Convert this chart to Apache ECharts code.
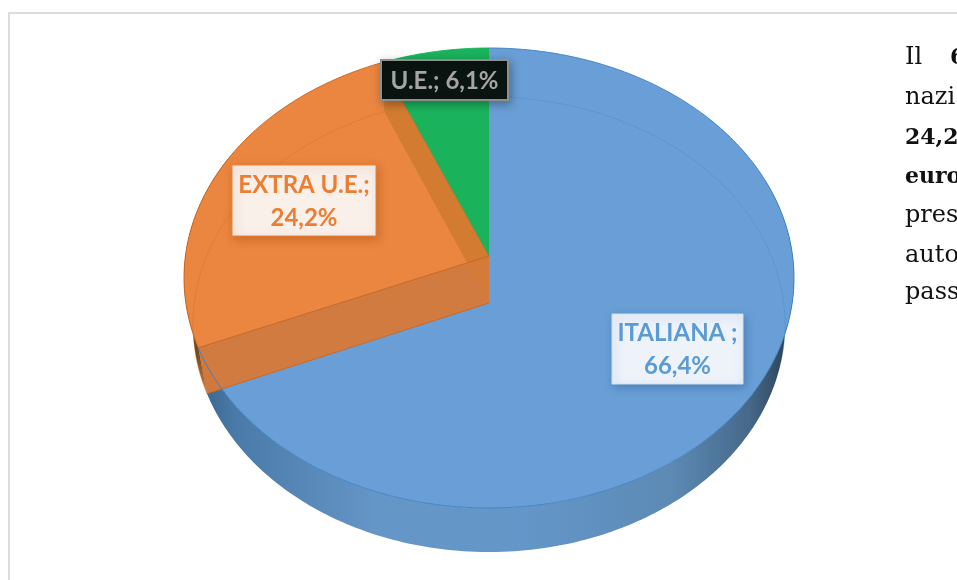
<!DOCTYPE html>
<html>
<head>
<meta charset="utf-8">
<style>
	html, body { margin: 0; padding: 0; background: #fff; }
	#chart { width: 957px; height: 580px; }
</style>
<script src="https://cdn.jsdelivr.net/npm/echarts@6/dist/echarts.min.js"></script>
</head>
<body>
<div id="chart"></div>
<script>
var categories = ['ITALIANA ;', 'EXTRA U.E.;', 'U.E.;'];
var values = [66.4, 24.2, 6.1];
var sideLines = [
	[['Il', false], ['6', true]],
	[['nazi', false]],
	[['24,2', true]],
	[['euro', true]],
	[['pres', false]],
	[['auto', false]],
	[['pass', false]]
];

// perspective rings of the disc: top face and base
var cx = 489;
var topRing = {cy: 256, a: 303.6, b: 227.9, k: 0.0956};
var baseRing = {cy: 303, a: 294.7, b: 225.5, k: 0.0945};

var faceColors = ['#699fd6', '#ea8640', '#1ab35c'];
var rimColors = ['#3d80c2', '#c9631c', '#1ab35c'];
var labelStyles = [
	{x: 612, y: 314, w: 131, h: 70, fill: '#eef3fa', stroke: '#cfe0f2', text: '#5b9bd5', shadow: 'rgba(50,100,160,0.55)', oneLine: false},
	{x: 232, y: 165, w: 144, h: 71, fill: '#f9f0ea', stroke: '#f0822f', text: '#ed7d31', shadow: 'rgba(170,80,20,0.5)', oneLine: false},
	{x: 381, y: 60, w: 127, h: 40, fill: '#0a1410', stroke: '#8d908f', text: '#a5a5a5', shadow: 'rgba(0,0,0,0.3)', oneLine: true}
];

function rimPoint(ring, deg) {
	var t = deg * Math.PI / 180;
	var u = Math.sin(t), v = -Math.cos(t);
	var d = 1 - ring.k * v;
	return [cx + ring.a * u / d, ring.cy + ring.b * v / d];
}

function rimArc(ring, from, to) {
	var pts = [];
	var n = Math.max(2, Math.ceil(Math.abs(to - from)));
	for (var i = 0; i <= n; i++) {
		pts.push(rimPoint(ring, from + (to - from) * i / n));
	}
	return pts;
}

var total = values.reduce(function (a, b) { return a + b; }, 0);

function startAngle(idx) {
	var s = 0;
	for (var i = 0; i < idx; i++) s += values[i];
	return s / total * 360;
}

function poly(points, style) {
	return {type: 'polygon', shape: {points: points}, style: style};
}

function line(points, stroke, width, opacity) {
	return {type: 'polyline', shape: {points: points}, style: {fill: 'none', stroke: stroke, lineWidth: width, opacity: opacity}};
}

function hgrad(x0, x1, stops) {
	return {type: 'linear', x: x0, y: 0, x2: x1, y2: 0, global: true, colorStops: stops};
}

function vgrad(y0, y1, stops) {
	return {type: 'linear', x: 0, y: y0, x2: 0, y2: y1, global: true, colorStops: stops};
}

function renderSlice(params, api) {
	var idx = params.dataIndex;
	var a0 = startAngle(idx);
	var a1 = a0 + api.value(0) / total * 360;
	var apex = [cx, topRing.cy];
	var baseApex = [cx, baseRing.cy];
	var kids = [];

	if (idx === 0) {
		// outer wall of the big slice
		kids.push(poly(rimArc(topRing, 70, a1).concat(rimArc(baseRing, a1, 70)), {
			fill: hgrad(200, 790, [
				{offset: 0, color: '#3a668c'},
				{offset: 0.06, color: '#4a7aa8'},
				{offset: 0.3, color: '#6596c8'},
				{offset: 0.55, color: '#6496c9'},
				{offset: 0.8, color: '#5c8ab4'},
				{offset: 0.93, color: '#46698a'},
				{offset: 1, color: '#2b4054'}
			])
		}));
	}
	if (idx === 1) {
		kids.push(poly(rimArc(topRing, a0, a0 + 50).concat(rimArc(baseRing, a0 + 50, a0)), {
			fill: vgrad(300, 393, [
				{offset: 0, color: '#4f3418'},
				{offset: 0.6, color: '#7a4a20'},
				{offset: 1, color: '#d9772f'}
			])
		}));
	}

	// top face
	kids.push(poly([apex].concat(rimArc(topRing, a0, a1)), {fill: faceColors[idx]}));
	kids.push(line(rimArc(topRing, a0, a1), rimColors[idx], 1, 0.9));

	if (idx === 0) {
		kids.push(line(rimArc(baseRing, 0, 105), '#3d80c2', 1, 0.3));
	}
	if (idx === 1) {
		var t0 = rimPoint(topRing, a0), b0 = rimPoint(baseRing, a0);
		var t1 = rimPoint(topRing, a1), b1 = rimPoint(baseRing, a1);
		kids.push(line(rimArc(baseRing, a0, a1), '#c9631c', 1, 0.3));
		// inner walls seen through the slice
		kids.push(poly([apex, t1, b1, baseApex], {fill: '#cf7a30', opacity: 0.9}));
		kids.push(poly([apex, t0, b0, baseApex], {fill: '#d67a3a', opacity: 0.96}));
		kids.push(line([t0, apex, t1], '#c9631c', 1, 0.9));
		kids.push(line([b0, baseApex], '#c9631c', 1, 0.8));
		// blue rim crossing the wall
		kids.push(line(rimArc(topRing, a0 - 12, a0), '#3d80c2', 1, 0.9));
	}
	return {type: 'group', children: kids};
}

function renderLabel(params, api) {
	var idx = params.dataIndex;
	var st = labelStyles[idx];
	var pct = api.value(0).toFixed(1).replace('.', ',') + '%';
	var label = st.oneLine ? categories[idx] + ' ' + pct : categories[idx] + '\n' + pct;
	return {
		type: 'group',
		children: [
			{
				type: 'rect',
				shape: {x: st.x, y: st.y, width: st.w, height: st.h},
				style: {fill: st.fill, stroke: st.stroke, lineWidth: st.oneLine ? 2 : 1, shadowBlur: 9, shadowOffsetX: 2, shadowOffsetY: 3, shadowColor: st.shadow}
			},
			{
				type: 'text',
				style: {
					text: label,
					x: st.x + st.w / 2,
					y: st.y + st.h / 2 + 1,
					align: 'center',
					verticalAlign: 'middle',
					fill: st.text,
					font: 'bold 24px Lato',
					lineHeight: 33
				}
			}
		]
	};
}

var sideGraphic = [];
var lineBase = [65, 105, 145, 184, 223, 263, 300];
sideLines.forEach(function (row, i) {
	row.forEach(function (part, j) {
		sideGraphic.push({
			type: 'text',
			style: {
				text: part[0],
				x: j === 0 ? 905 : 950,
				y: lineBase[i] - 7,
				verticalAlign: 'middle',
				fill: '#111',
				font: (part[1] ? 'bold 22px' : '24px') + ' "DejaVu Serif"'
			}
		});
	});
});

var frame = [
	{type: 'rect', shape: {x: 8, y: 12, width: 949, height: 2}, style: {fill: '#dcdcdc'}},
	{type: 'rect', shape: {x: 8, y: 12, width: 2, height: 568}, style: {fill: '#dcdcdc'}}
];

var chart = echarts.init(document.getElementById('chart'), null, {renderer: 'canvas'});
var option = {
	animation: false,
	backgroundColor: '#fff',
	graphic: frame.concat(sideGraphic),
	series: [
		{
			name: 'slices',
			type: 'custom',
			coordinateSystem: 'none',
			silent: true,
			renderItem: renderSlice,
			data: values.map(function (v) { return [v]; })
		},
		{
			name: 'labels',
			type: 'custom',
			coordinateSystem: 'none',
			silent: true,
			z: 5,
			renderItem: renderLabel,
			data: values.map(function (v) { return [v]; })
		}
	]
};
chart.setOption(option);
</script>
</body>
</html>
